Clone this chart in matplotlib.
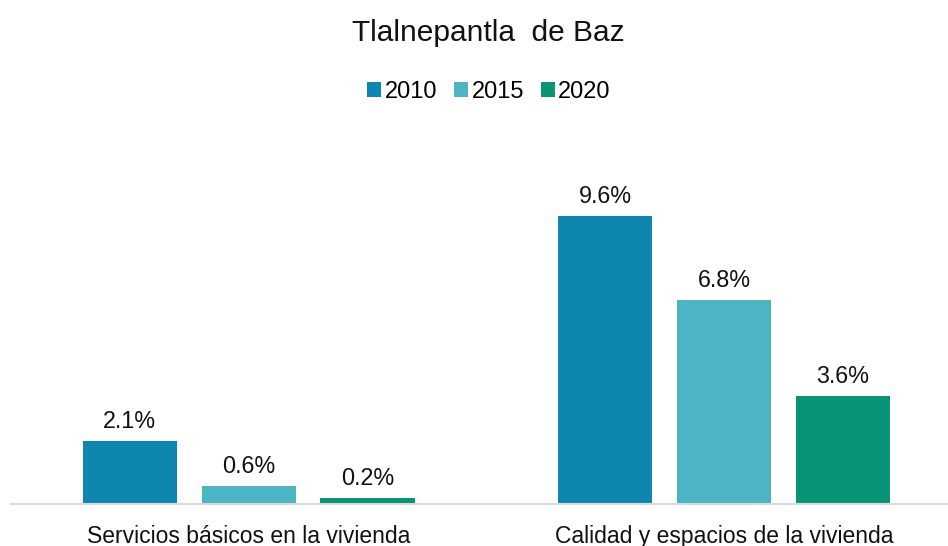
import numpy as np
import matplotlib.pyplot as plt

plt.rcParams['font.family'] = ['Liberation Sans', 'DejaVu Sans']

# datos
categorias = ['Servicios básicos en la vivienda', 'Calidad y espacios de la vivienda']
anios = ['2010', '2015', '2020']
v2010 = [2.1, 9.6]
v2015 = [0.6, 6.8]
v2020 = [0.2, 3.6]
colores = ['#0E86B0', '#4BB5C4', '#0A9476']

fig = plt.figure(figsize=(9.48, 5.46), dpi=100)
ax = fig.add_axes([11 / 948, 42 / 546, 937 / 948, 374 / 546])

x = np.arange(len(categorias))
ancho = 0.198
paso = 0.25
for i, (serie, anio) in enumerate(zip([v2010, v2015, v2020], anios)):
    barras = ax.bar(x + (i - 1) * paso, serie, ancho, color=colores[i], label=anio)
    for b, v in zip(barras, serie):
        ax.annotate(f'{v:.1f}%', (b.get_x() + b.get_width() / 2, v),
                    xytext=(0, 6), textcoords='offset points',
                    ha='center', va='bottom', fontsize=16.8, color='#111111')

ax.set_xlim(-0.5, 1.471)
ax.set_ylim(0, 12.47)
ax.set_yticks([])
ax.set_xticks(x)
ax.set_xticklabels(categorias, fontsize=16.5, color='#111111')
ax.tick_params(axis='x', length=0, pad=15)
for s in ['top', 'right', 'left']:
    ax.spines[s].set_visible(False)
ax.spines['bottom'].set_color('#D9D9D9')
ax.spines['bottom'].set_linewidth(1.5)

fig.text(0.515, 1 - 33 / 546, 'Tlalnepantla  de Baz', ha='center', va='center',
         fontsize=21.5, color='#111111')
fig.legend(loc='center', bbox_to_anchor=(489 / 948, 1 - 92 / 546), ncol=3,
           frameon=False, fontsize=17, handlelength=0.6, handleheight=0.6,
           handletextpad=0.15, columnspacing=0.7)

fig.savefig('out.png')
